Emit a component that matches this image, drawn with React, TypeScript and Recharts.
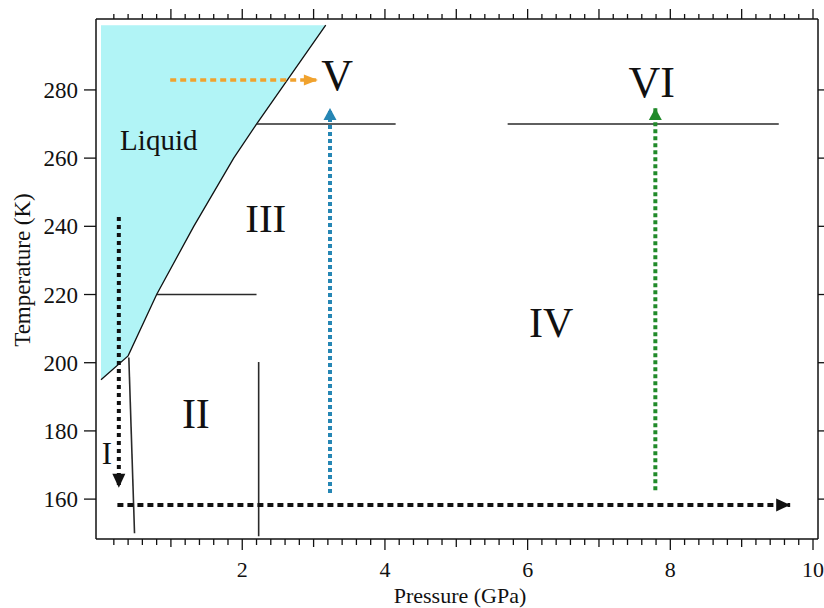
import React from "react";
import { ComposedChart, XAxis, YAxis, Line, Area, ReferenceDot } from "recharts";

const SERIF = '"Liberation Serif", "Times New Roman", serif';
const INK = "#111";

// Axis ranges and ticks
const pressureDomain = [-0.05, 10.07];
const tempDomain = [148.3, 300.8];
const pressureLabels = [2, 4, 6, 8, 10];
const pressureTicks = Array.from({ length: 50 }, (_, i) => +((i + 1) * 0.2).toFixed(1));
const tempTicks = [160, 180, 200, 220, 240, 260, 280];

// Melting curve (lower edge of the liquid field) and the top of the liquid field
const meltP = [0.02, 0.4, 0.8, 1.32, 1.88, 2.2, 3.17];
const meltT = [195, 202, 220, 240, 260, 270, 299];
const liquidTop = 299;

// Solid–solid phase boundaries
const b270aP = [2.2, 4.15];
const b270aT = [270, 270];
const b270bP = [5.72, 9.52];
const b270bT = [270, 270];
const b220P = [0.8, 2.2];
const b220T = [220, 220];
const bIIP = [2.23, 2.23];
const bIIT = [200.2, 149.1];
const bIP = [0.41, 0.49];
const bIT = [201.5, 150];

// Experimental paths (arrows end at the last point)
const coolP = [0.27, 0.27];
const coolT = [242.7, 163.3];
const compressP = [0.25, 9.68];
const compressT = [158.3, 158.3];
const liquidPathP = [0.99, 3.06];
const liquidPathT = [282.9, 282.9];
const heatVP = [3.23, 3.23];
const heatVT = [161.8, 274.7];
const heatVIP = [7.79, 7.79];
const heatVIT = [162.6, 274.7];

// Phase labels
const phaseNames = ["V", "VI", "Liquid", "III", "IV", "II", "I"];
const phaseP = [3.33, 7.74, 0.83, 2.33, 6.33, 1.35, 0.104];
const phaseT = [280, 277.9, 262.4, 238.3, 207.5, 180.9, 170.3];
const phaseSize = [44, 44, 29, 41, 42, 42, 31];

const zip = (p: number[], t: number[]) => p.map((v, i) => ({ p: v, t: t[i] }));

const liquidData = meltP.map((p, i) => ({ p, range: [meltT[i], liquidTop] }));
const meltData = zip(meltP, meltT);

const boundaryData = [
  zip(b270aP, b270aT),
  zip(b270bP, b270bT),
  zip(b220P, b220T),
  zip(bIIP, bIIT),
  zip(bIP, bIT),
];

type Dir = "up" | "down" | "right";

const arrows: { data: { p: number; t: number }[]; color: string; dash: string; width: number; dir: Dir; len: number; half: number }[] = [
  { data: zip(coolP, coolT), color: "#111", dash: "4 4", width: 4, dir: "down", len: 14, half: 6.5 },
  { data: zip(compressP, compressT), color: "#111", dash: "6 4", width: 4, dir: "right", len: 14, half: 6.5 },
  { data: zip(liquidPathP, liquidPathT), color: "#f0a22e", dash: "6 4", width: 3.5, dir: "right", len: 14, half: 5.5 },
  { data: zip(heatVP, heatVT), color: "#2586b4", dash: "4 3", width: 4, dir: "up", len: 12, half: 6.5 },
  { data: zip(heatVIP, heatVIT), color: "#218a2a", dash: "4 3", width: 4, dir: "up", len: 12, half: 6.5 },
];

function arrowHead(dir: Dir, color: string, len: number, half: number, last: number) {
  return (props: any) => {
    const { cx, cy, index } = props;
    if (index !== last) return <g key={`n${index}`} />;
    let pts = "";
    if (dir === "up") pts = `${cx},${cy} ${cx - half},${cy + len} ${cx + half},${cy + len}`;
    if (dir === "down") pts = `${cx},${cy} ${cx - half},${cy - len} ${cx + half},${cy - len}`;
    if (dir === "right") pts = `${cx},${cy} ${cx - len},${cy - half} ${cx - len},${cy + half}`;
    return <polygon key={`h${index}`} points={pts} fill={color} stroke="none" />;
  };
}

const BottomTick = (props: any) => {
  const { x, y, payload } = props;
  const v = payload.value;
  const isInt = Math.abs(v - Math.round(v)) < 1e-6;
  const even = isInt && Math.round(v) % 2 === 0;
  const len = even ? 11 : isInt ? 8 : 6;
  return (
    <g>
      <line x1={x} x2={x} y1={y} y2={y + len} stroke={INK} strokeWidth={1.3} />
      {pressureLabels.includes(v) && (
        <text x={x} y={y + 38} textAnchor="middle" fontFamily={SERIF} fontSize={22} fill={INK}>
          {v}
        </text>
      )}
    </g>
  );
};

const TopTick = (props: any) => {
  const { x, y, payload } = props;
  const v = payload.value;
  const isInt = Math.abs(v - Math.round(v)) < 1e-6;
  const len = isInt ? 10 : 5;
  return <line x1={x} x2={x} y1={y} y2={y - len} stroke={INK} strokeWidth={1.3} />;
};

const LeftTick = (props: any) => {
  const { x, y, payload } = props;
  return (
    <g>
      <line x1={x - 12} x2={x} y1={y} y2={y} stroke={INK} strokeWidth={1.3} />
      <text x={x - 18} y={y + 8} textAnchor="end" fontFamily={SERIF} fontSize={23} fill={INK}>
        {payload.value}
      </text>
    </g>
  );
};

const RightTick = (props: any) => {
  const { x, y } = props;
  return <line x1={x} x2={x + 6} y1={y} y2={y} stroke={INK} strokeWidth={1.3} />;
};

const axisLine = { stroke: INK, strokeWidth: 1.5 };

export default function App() {
  return (
    <div style={{ position: "absolute", left: 0, top: 0, background: "#fff" }}>
      <ComposedChart width={824} height={608} margin={{ top: 0, right: 0, bottom: 0, left: 0 }}>
        <XAxis
          xAxisId="b"
          dataKey="p"
          type="number"
          orientation="bottom"
          domain={pressureDomain}
          allowDataOverflow
          ticks={pressureTicks}
          interval={0}
          tick={BottomTick}
          tickLine={false}
          tickSize={0}
          tickMargin={0}
          height={69}
          axisLine={axisLine}
          label={{
            position: "insideBottom",
            content: (props: any) => {
              const vb = props.viewBox || { x: 96, y: 539, width: 722, height: 69 };
              return (
                <text x={vb.x + vb.width / 2 + 3} y={vb.y + vb.height - 5} textAnchor="middle" fontFamily={SERIF} fontSize={22} fill={INK}>
                  Pressure (GPa)
                </text>
              );
            },
          }}
        />
        <XAxis
          xAxisId="t"
          dataKey="p"
          type="number"
          orientation="top"
          domain={pressureDomain}
          allowDataOverflow
          ticks={pressureTicks}
          interval={0}
          tick={TopTick}
          tickLine={false}
          tickSize={0}
          tickMargin={0}
          height={19}
          axisLine={axisLine}
        />
        <YAxis
          yAxisId="l"
          dataKey="t"
          type="number"
          orientation="left"
          domain={tempDomain}
          allowDataOverflow
          ticks={tempTicks}
          interval={0}
          tick={LeftTick}
          tickLine={false}
          tickSize={0}
          tickMargin={0}
          width={96}
          axisLine={axisLine}
          label={{
            position: "insideLeft",
            content: (props: any) => {
              const vb = props.viewBox || { x: 0, y: 19, width: 96, height: 520 };
              const cx = vb.x + 30;
              const cy = vb.y + vb.height / 2 - 9;
              return (
                <text x={cx} y={cy} transform={`rotate(-90 ${cx} ${cy})`} textAnchor="middle" fontFamily={SERIF} fontSize={23} fill={INK}>
                  Temperature (K)
                </text>
              );
            },
          }}
        />
        <YAxis
          yAxisId="r"
          dataKey="t"
          type="number"
          orientation="right"
          domain={tempDomain}
          allowDataOverflow
          ticks={tempTicks}
          interval={0}
          tick={RightTick}
          tickLine={false}
          tickSize={0}
          tickMargin={0}
          width={6}
          axisLine={axisLine}
        />

        {/* liquid field */}
        <Area
          xAxisId="b"
          yAxisId="l"
          data={liquidData}
          dataKey="range"
          type="linear"
          stroke="none"
          fill="#b1f4f6"
          fillOpacity={1}
          isAnimationActive={false}
          activeDot={false}
        />
        <Line
          xAxisId="b"
          yAxisId="l"
          data={meltData}
          dataKey="t"
          type="linear"
          stroke={INK}
          strokeWidth={1.3}
          dot={false}
          activeDot={false}
          isAnimationActive={false}
        />

        {boundaryData.map((d, i) => (
          <Line
            key={`b${i}`}
            xAxisId="b"
            yAxisId="l"
            data={d}
            dataKey="t"
            type="linear"
            stroke="#2a2a2a"
            strokeWidth={1.6}
            dot={false}
            activeDot={false}
            isAnimationActive={false}
          />
        ))}

        {arrows.map((a, i) => (
          <Line
            key={`a${i}`}
            xAxisId="b"
            yAxisId="l"
            data={a.data}
            dataKey="t"
            type="linear"
            stroke={a.color}
            strokeWidth={a.width}
            strokeDasharray={a.dash}
            dot={arrowHead(a.dir, a.color, a.len, a.half, a.data.length - 1)}
            activeDot={false}
            isAnimationActive={false}
          />
        ))}

        {phaseNames.map((name, i) => (
          <ReferenceDot
            key={name}
            xAxisId="b"
            yAxisId="l"
            x={phaseP[i]}
            y={phaseT[i]}
            r={0}
            shape={(props: any) => (
              <text x={props.cx} y={props.cy} textAnchor="middle" fontFamily={SERIF} fontSize={phaseSize[i]} fill={INK}>
                {name}
              </text>
            )}
          />
        ))}
      </ComposedChart>
    </div>
  );
}
